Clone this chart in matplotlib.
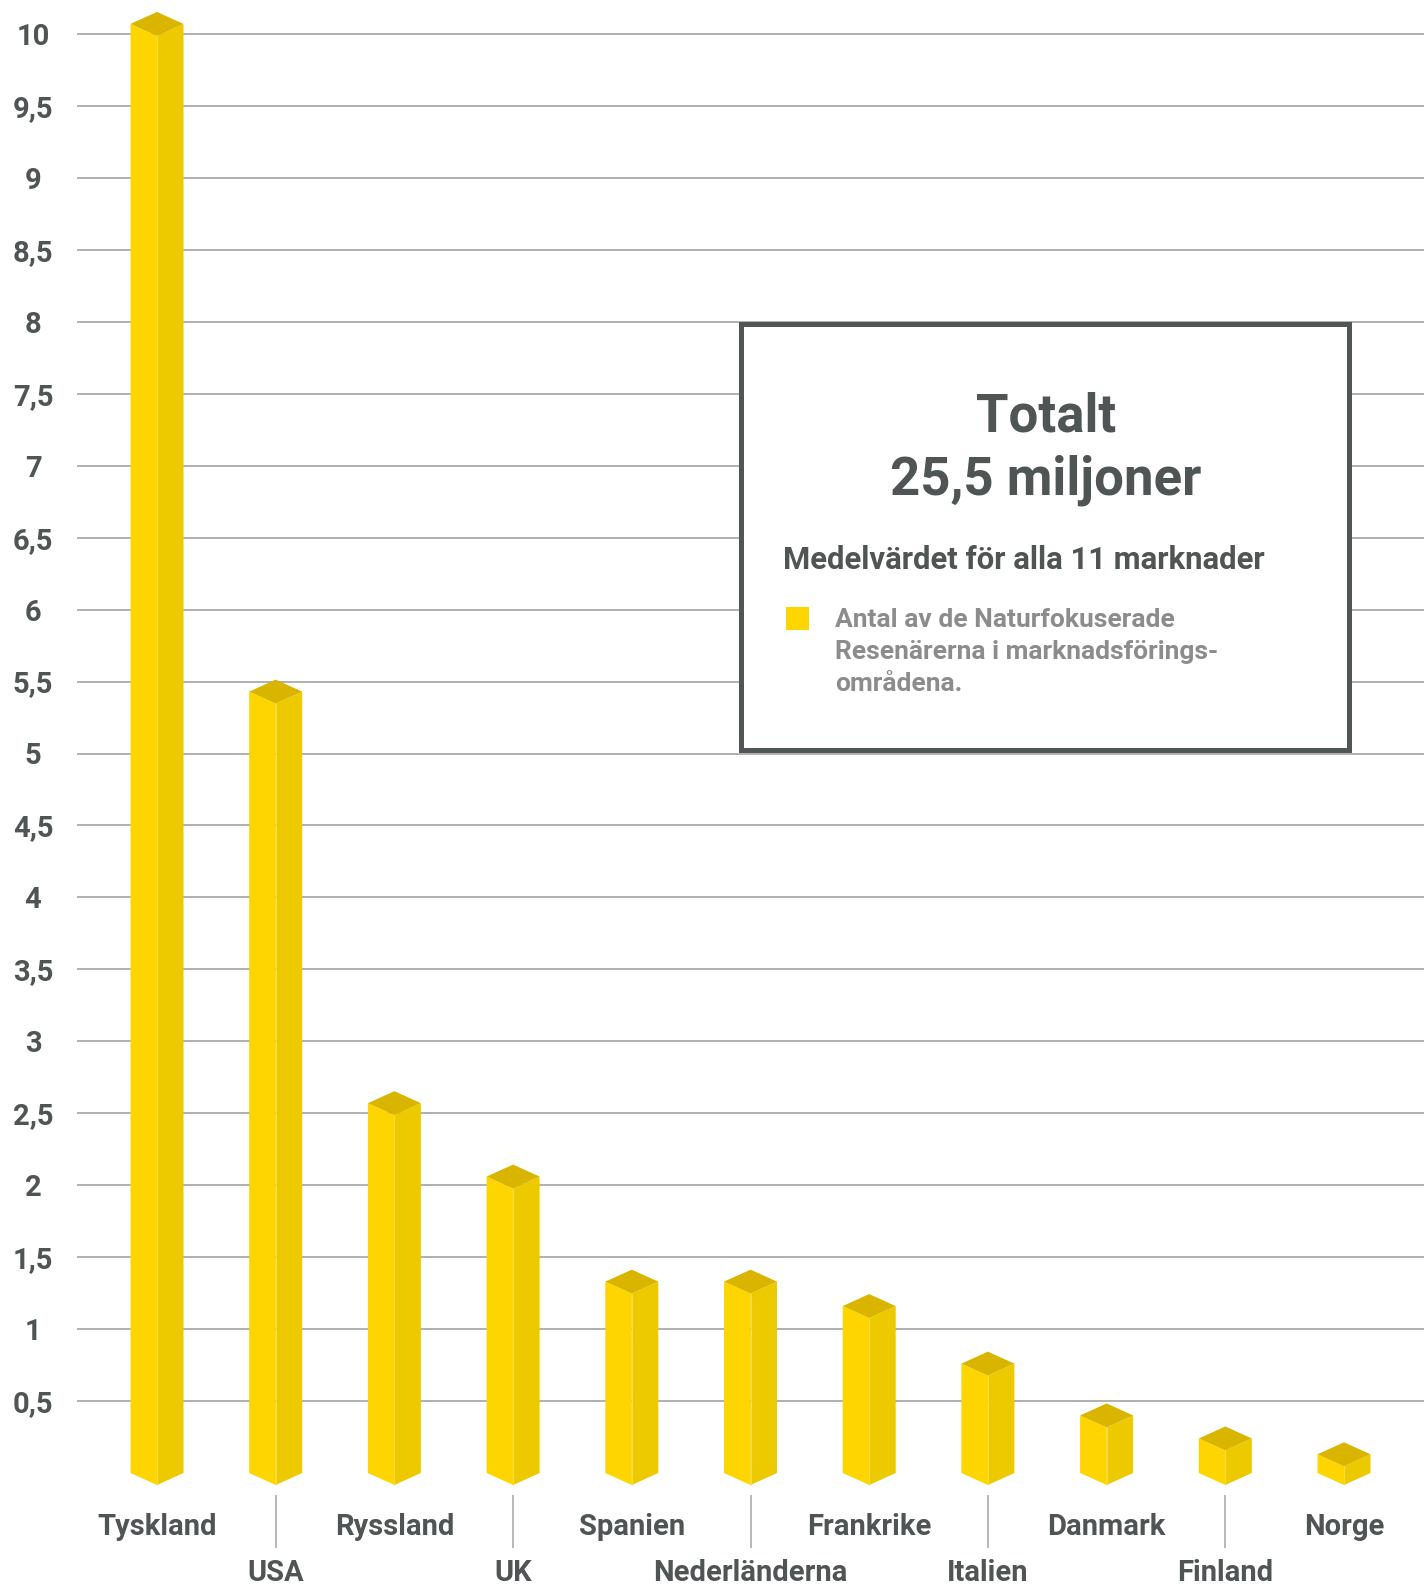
import matplotlib
matplotlib.use("Agg")
import matplotlib.pyplot as plt
from matplotlib.patches import Polygon, Rectangle

# --- data -------------------------------------------------------------
countries = ["Tyskland", "USA", "Ryssland", "UK", "Spanien", "Nederländerna",
             "Frankrike", "Italien", "Danmark", "Finland", "Norge"]
values = [10.07, 5.43, 2.57, 2.06, 1.33, 1.33, 1.16, 0.76, 0.40, 0.24, 0.13]

y_ticks = [0.5, 1, 1.5, 2, 2.5, 3, 3.5, 4, 4.5, 5,
           5.5, 6, 6.5, 7, 7.5, 8, 8.5, 9, 9.5, 10]
y_tick_labels = ["0,5", "1", "1,5", "2", "2,5", "3", "3,5", "4", "4,5", "5",
                 "5,5", "6", "6,5", "7", "7,5", "8", "8,5", "9", "9,5", "10"]

box_title = "Totalt"
box_total = "25,5 miljoner"
box_subtitle = "Medelvärdet för alla 11 marknader"
legend_lines = ["Antal av de Naturfokuserade",
                "Resenärerna i marknadsförings-",
                "områdena."]

# --- style ------------------------------------------------------------
plt.rcParams["font.family"] = ["Roboto", "DejaVu Sans"]
DARK = "#4f5454"
LIGHT_TEXT = "#8c8c8c"
GRID = "#a3a3a3"
FRONT = "#FFD500"
SIDE = "#EDC900"
TOP = "#DAB500"
EDGE = "#F6DC45"

W, H, DPI = 1424, 1584, 100


def fx(px):
    return px / W


def fy(py):
    return 1 - py / H


fig = plt.figure(figsize=(W / DPI, H / DPI), dpi=DPI)
fig.patch.set_facecolor("white")

# axes start where the grid lines start and run to the bottom edge
LEFT_PX = 77
X0_PX, STEP_PX = 157, 118.7      # first bar centre, bar spacing
Y0_PX, UNIT_PX = 1473, 143.9     # baseline, pixels per unit
ax = fig.add_axes([fx(LEFT_PX), 0, 1 - fx(LEFT_PX), 1])
ax.set_xlim((LEFT_PX - X0_PX) / STEP_PX, (W - X0_PX) / STEP_PX)
ax.set_ylim((Y0_PX - H) / UNIT_PX, Y0_PX / UNIT_PX)
for s in ax.spines.values():
    s.set_visible(False)
ax.set_facecolor("white")

# y axis: centred labels and grid lines
ax.set_yticks(y_ticks, y_tick_labels)
ax.tick_params(axis="y", length=0, pad=44 * 72 / DPI, labelsize=21,
               labelcolor=DARK)
for lab in ax.get_yticklabels():
    lab.set_fontweight("bold")
    lab.set_horizontalalignment("center")
ax.set_xticks([])
ax.yaxis.grid(True, color=GRID, linewidth=1.2)
ax.set_axisbelow(True)

# isometric prisms
half_w = 26.5 / STEP_PX
depth = 12 / UNIT_PX
for i, v in enumerate(values):
    front = [(i - half_w, 0), (i, -depth), (i, v - depth), (i - half_w, v)]
    side = [(i, -depth), (i + half_w, 0), (i + half_w, v), (i, v - depth)]
    top = [(i - half_w, v), (i, v - depth), (i + half_w, v), (i, v + depth)]
    ax.add_patch(Polygon(front, closed=True, facecolor=FRONT, edgecolor="none", zorder=3))
    ax.add_patch(Polygon(side, closed=True, facecolor=SIDE, edgecolor="none", zorder=3))
    ax.add_patch(Polygon(top, closed=True, facecolor=TOP, edgecolor="none", zorder=3))
    ax.plot([i, i], [-depth, v - depth], color=EDGE, lw=0.8, zorder=4,
            solid_capstyle="butt")

# category labels, staggered on two rows
row1 = (Y0_PX - 1535) / UNIT_PX
row2 = (Y0_PX - 1581) / UNIT_PX
tick_top = (Y0_PX - 1495) / UNIT_PX
tick_bottom = (Y0_PX - 1548) / UNIT_PX
for i, name in enumerate(countries):
    if i % 2 == 0:
        ax.text(i, row1, name, ha="center", va="baseline", fontsize=21,
                fontweight="bold", color=DARK)
    else:
        ax.plot([i, i], [tick_top, tick_bottom], color=GRID, lw=1.1,
                solid_capstyle="butt")
        ax.text(i, row2, name, ha="center", va="baseline", fontsize=21,
                fontweight="bold", color=DARK, clip_on=False)

# summary box
box_l, box_r, box_t, box_b = 740.5, 1348.5, 323.5, 749.5
fig.add_artist(Rectangle((fx(box_l), fy(box_b)), (box_r - box_l) / W,
                         (box_b - box_t) / H, transform=fig.transFigure,
                         facecolor="white", edgecolor="#505555",
                         linewidth=5 * 72 / DPI, zorder=5))
fig.text(fx(1046), fy(432), box_title, ha="center", va="baseline",
         fontsize=38, fontweight="bold", color=DARK, zorder=6)
fig.text(fx(1046), fy(495), box_total, ha="center", va="baseline",
         fontsize=38, fontweight="bold", color=DARK, zorder=6)
fig.text(fx(783), fy(569), box_subtitle, ha="left", va="baseline",
         fontsize=22.4, fontweight="bold", color=DARK, zorder=6)
fig.add_artist(Rectangle((fx(786), fy(630)), 23 / W, 23 / H,
                         transform=fig.transFigure, facecolor=FRONT,
                         edgecolor="none", zorder=6))
for k, line in enumerate(legend_lines):
    fig.text(fx(835), fy(627 + 32 * k), line, ha="left", va="baseline",
             fontsize=19, fontweight="bold", color=LIGHT_TEXT, zorder=6)

fig.savefig("out.png", dpi=DPI, facecolor="white")
